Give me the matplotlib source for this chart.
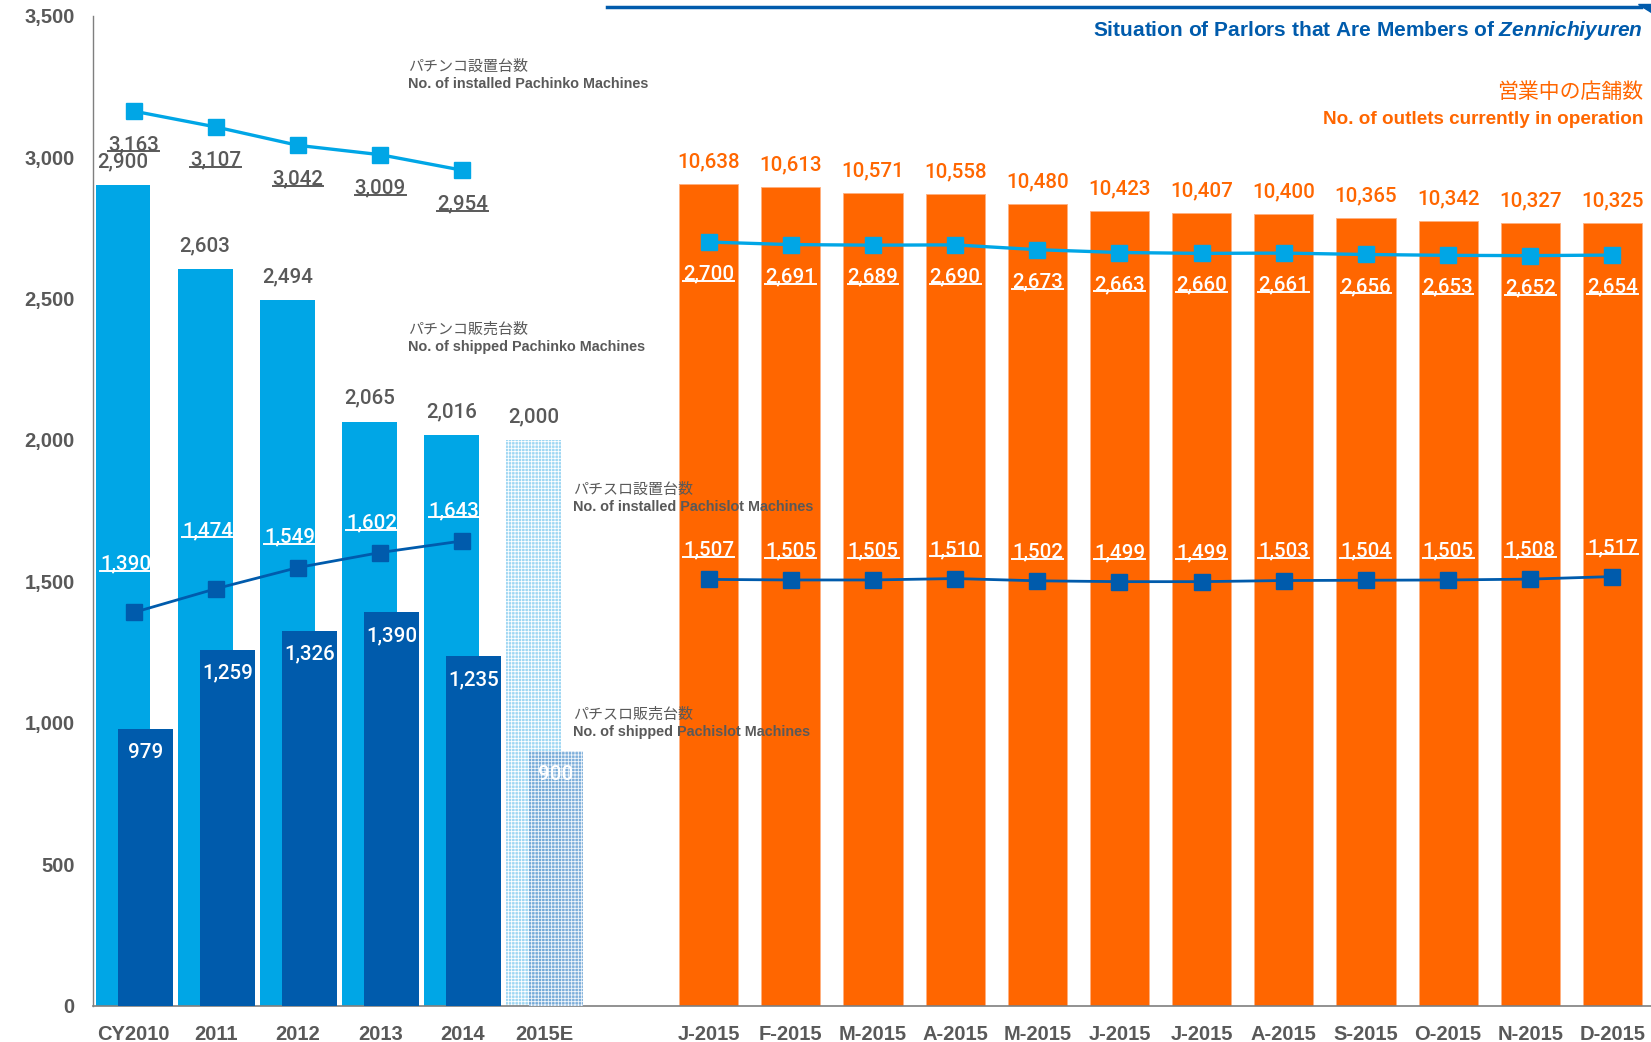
import matplotlib
matplotlib.use("Agg")
import matplotlib.pyplot as plt
import numpy as np
from matplotlib.lines import Line2D
from matplotlib.patches import Polygon
from matplotlib.transforms import IdentityTransform

# ---------------- data ----------------
year_labels = ['CY2010', '2011', '2012', '2013', '2014', '2015E']
shipped_pachinko = [2900, 2603, 2494, 2065, 2016, 2000]
shipped_pachislot = [979, 1259, 1326, 1390, 1235, 900]
installed_pachinko_y = [3163, 3107, 3042, 3009, 2954]
installed_pachislot_y = [1390, 1474, 1549, 1602, 1643]

month_labels = ['J-2015', 'F-2015', 'M-2015', 'A-2015', 'M-2015', 'J-2015',
                'J-2015', 'A-2015', 'S-2015', 'O-2015', 'N-2015', 'D-2015']
outlets = [10638, 10613, 10571, 10558, 10480, 10423, 10407, 10400, 10365, 10342, 10327, 10325]
installed_pachinko_m = [2700, 2691, 2689, 2690, 2673, 2663, 2660, 2661, 2656, 2653, 2652, 2654]
installed_pachislot_m = [1507, 1505, 1505, 1510, 1502, 1499, 1499, 1503, 1504, 1505, 1508, 1517]

yticks = [0, 500, 1000, 1500, 2000, 2500, 3000, 3500]

# ---------------- style ----------------
LB = '#00a6e6'
DB = '#005bac'
OR = '#ff6600'
GR = '#595959'
NUMF = ['Roboto', 'Liberation Sans', 'DejaVu Sans']
TXTF = ['Liberation Sans', 'DejaVu Sans']
NARROW = ['Liberation Sans Narrow', 'Liberation Sans', 'Noto Sans CJK JP']
JPF = ['Noto Sans CJK JP', 'DejaVu Sans']
plt.rcParams['font.family'] = ['Liberation Sans', 'Noto Sans CJK JP', 'DejaVu Sans']
plt.rcParams['hatch.linewidth'] = 0.6
plt.rcParams['mathtext.fontset'] = 'custom'
plt.rcParams['mathtext.it'] = 'Liberation Sans:bold:italic'
plt.rcParams['mathtext.rm'] = 'Liberation Sans:bold'

fig = plt.figure(figsize=(16.51, 10.42), dpi=100)
ax = fig.add_axes([0.0561, 0.035, 0.9439, 0.9498])
ax2 = ax.twinx()
ax.set_zorder(2)
ax2.set_zorder(1)
ax.patch.set_visible(False)

yx = np.arange(len(year_labels))
mx = np.arange(len(month_labels)) + len(year_labels) + 1

W = 0.667
# light-blue bars (shipped pachinko)
ax.bar(yx[:5] - 0.13, shipped_pachinko[:5], width=W, color=LB, zorder=2)
ax.bar(yx[5:] - 0.13, shipped_pachinko[5:], width=W, color='#9fd7f3',
       edgecolor='white', hatch='+++++', linewidth=0, zorder=2)
# dark-blue bars (shipped pachislot)
ax.bar(yx[:5] + 0.14, shipped_pachislot[:5], width=W, color=DB, zorder=3)
ax.bar(yx[5:] + 0.14, shipped_pachislot[5:], width=W, color='#6fa5d6',
       edgecolor='white', hatch='+++++', linewidth=0, zorder=3, alpha=0.9)

# orange bars on hidden secondary axis
ax2.bar(mx, outlets, width=0.72, color=OR, edgecolor='#ffb080', linewidth=0.6)
ax2.set_ylim(4000, 12000)
ax2.axis('off')

# lines
ax.plot(yx[:5], installed_pachinko_y, color=LB, lw=2.4, marker='s', ms=12, zorder=5)
ax.plot(yx[:5], installed_pachislot_y, color=DB, lw=2.0, marker='s', ms=12, zorder=5)
ax.plot(mx, installed_pachinko_m, color=LB, lw=2.4, marker='s', ms=12, zorder=5)
ax.plot(mx, installed_pachislot_m, color=DB, lw=2.0, marker='s', ms=12, zorder=5)

ax.set_xlim(-0.5, 18.47)
ax.set_ylim(0, 3500)
ax.set_yticks(yticks)
ax.set_yticklabels([f'{v:,}' for v in yticks], fontsize=14.5, color=GR, fontweight='bold')
ax.set_xticks(list(yx) + list(mx))
ax.set_xticklabels(year_labels + month_labels, fontsize=14.5, color=GR, fontweight='bold')
ax.tick_params(axis='both', length=0)
ax.tick_params(axis='x', pad=14)
ax.tick_params(axis='y', pad=13)
for s in ['top', 'right']:
    ax.spines[s].set_visible(False)
ax.spines['left'].set_color('#7f7f7f')
ax.spines['bottom'].set_color('#7f7f7f')
ax.spines['left'].set_linewidth(1.0)
ax.spines['bottom'].set_linewidth(1.2)

underlined = []

def lab(axis, x, y, s, dy, color, ul=False, size=14.8, weight='medium'):
    t = axis.annotate(s, (x, y), xytext=(0, dy), textcoords='offset points',
                      ha='center', va='center', color=color, fontsize=size,
                      fontweight=weight, family=NUMF, zorder=10)
    if ul:
        underlined.append(t)
    return t

# year labels
for i in range(6):
    lab(ax, yx[i] - 0.13, shipped_pachinko[i], f'{shipped_pachinko[i]:,}', 17, GR)
    lab(ax, yx[i] + 0.14, shipped_pachislot[i], f'{shipped_pachislot[i]:,}', -17, 'white')
for i in range(5):
    lab(ax, yx[i], installed_pachinko_y[i], f'{installed_pachinko_y[i]:,}', -24, GR, ul=True)
pslot_off = [35, 42, 22, 21, 22]
for i in range(5):
    lab(ax, yx[i] - 0.1, installed_pachislot_y[i], f'{installed_pachislot_y[i]:,}', pslot_off[i], 'white', ul=True)

# month labels
for i in range(12):
    lab(ax2, mx[i], outlets[i], f'{outlets[i]:,}', 16, OR)
    lab(ax, mx[i], installed_pachinko_m[i], f'{installed_pachinko_m[i]:,}', -23, 'white', ul=True)
    lab(ax, mx[i], installed_pachislot_m[i], f'{installed_pachislot_m[i]:,}', 21, 'white', ul=True)

# series annotations
def note(xp, yp, jp, en):
    fig.text(xp / 1651, 1 - yp / 1042, jp, fontsize=10.8, color=GR, family=JPF, va='center', zorder=20)
    fig.text(xp / 1651, 1 - (yp + 17) / 1042, en, fontsize=10.4, color=GR, family=TXTF,
             fontweight='bold', va='center', zorder=20)

note(408, 67, 'パチンコ設置台数', 'No. of installed Pachinko Machines')
note(408, 330, 'パチンコ販売台数', 'No. of shipped Pachinko Machines')
note(573, 490, 'パチスロ設置台数', 'No. of installed Pachislot Machines')
note(573, 715, 'パチスロ販売台数', 'No. of shipped Pachislot Machines')

# title area
fig.add_artist(Line2D([607 / 1651, 1641 / 1651], [1 - 7 / 1042, 1 - 7 / 1042],
                      color=DB, lw=2.5, transform=fig.transFigure))
fig.add_artist(Polygon([[1638 / 1651, 1 - 4 / 1042], [1651 / 1651, 1 - 4 / 1042],
                        [1651 / 1651, 1 - 12 / 1042]], closed=True, color=DB,
                       transform=fig.transFigure))
fig.text(1643 / 1651, 1 - 31 / 1042,
         r'Situation of Parlors that Are Members of $\mathit{Zennichiyuren}$',
         ha='right', va='center', fontsize=15, color=DB, fontweight='bold', family=NARROW)
fig.text(1643 / 1651, 1 - 92 / 1042, '営業中の店舗数', ha='right', va='center',
         fontsize=15, color=OR, family=JPF)
fig.text(1643 / 1651, 1 - 120 / 1042, 'No. of outlets currently in operation', ha='right',
         va='center', fontsize=13.6, color=OR, fontweight='bold', family=NARROW)

# underline selected labels
fig.canvas.draw()
r = fig.canvas.get_renderer()
for t in underlined:
    bb = t.get_window_extent(r)
    yb = bb.y0 + 2.5
    fig.add_artist(Line2D([bb.x0, bb.x1], [yb, yb], color=t.get_color(), lw=1.4,
                          transform=IdentityTransform(), zorder=11))

fig.savefig('out.png', dpi=100)
